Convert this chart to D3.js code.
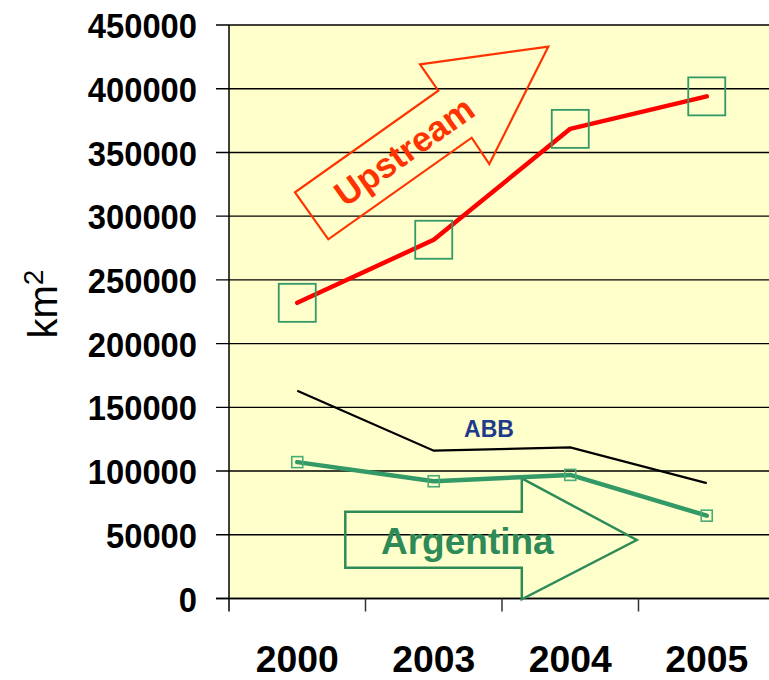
<!DOCTYPE html>
<html>
<head>
<meta charset="utf-8">
<script src="https://cdn.jsdelivr.net/npm/d3@7/dist/d3.min.js"></script>
<style>
  html, body { margin: 0; padding: 0; background: #ffffff; }
  svg { display: block; }
  text { font-family: Arial, "Liberation Sans", Helvetica, sans-serif; }
</style>
</head>
<body>
<svg id="chart" width="769" height="680"></svg>
<script>
// Surface area per year (km²)
const years = ["2000", "2003", "2004", "2005"];
const upstream = [232000, 281500, 368500, 394000];
const abb = [163000, 116000, 118500, 90500];
const argentina = [107000, 92000, 97000, 65000];
const yTickValues = [0, 50000, 100000, 150000, 200000, 250000, 300000, 350000, 400000, 450000];

const svg = d3.select("#chart");
const W = 769;
const plot = { left: 229, right: 775, top: 25, bottom: 598.5 };

const x = d3.scaleBand().domain(years).range([plot.left, plot.right]);
const y = d3.scaleLinear().domain([0, 450000]).range([plot.bottom, plot.top]);
const cx = d => x(d) + x.bandwidth() / 2;

// plot background
svg.append("rect")
  .attr("x", plot.left).attr("y", plot.top)
  .attr("width", W - plot.left).attr("height", plot.bottom - plot.top)
  .attr("fill", "#FFFFCC");

// horizontal gridlines, extending left as tick marks
svg.append("g").selectAll("line").data(yTickValues).join("line")
  .attr("x1", plot.left - 13).attr("x2", W)
  .attr("y1", d => y(d)).attr("y2", d => y(d))
  .attr("stroke", "#000").attr("stroke-width", 1.4);

// y axis labels
const yAxis = d3.axisLeft(y).tickValues(yTickValues).tickSize(0).tickPadding(32)
  .tickFormat(d3.format("d"));
const yg = svg.append("g").attr("transform", `translate(${plot.left},0)`).call(yAxis);
yg.select(".domain").remove();
yg.selectAll("text")
  .attr("font-size", 35).attr("font-weight", "bold").attr("fill", "#000")
  .attr("dy", "0.36em")
  .attr("textLength", d => String(d).length * 18.2)
  .attr("lengthAdjust", "spacingAndGlyphs");

// axis lines
svg.append("line")
  .attr("x1", plot.left).attr("x2", plot.left)
  .attr("y1", plot.top).attr("y2", plot.bottom + 13)
  .attr("stroke", "#000").attr("stroke-width", 1.5);
svg.append("line")
  .attr("x1", plot.left - 13).attr("x2", W)
  .attr("y1", plot.bottom).attr("y2", plot.bottom)
  .attr("stroke", "#000").attr("stroke-width", 1.5);

// x axis: ticks at category boundaries, labels at category centres
svg.append("g").selectAll("line").data(years.slice(1)).join("line")
  .attr("x1", d => x(d)).attr("x2", d => x(d))
  .attr("y1", plot.bottom).attr("y2", plot.bottom + 13)
  .attr("stroke", "#333").attr("stroke-width", 1.5);

const xAxis = d3.axisBottom(x).tickSize(0).tickPadding(0);
const xg = svg.append("g").attr("transform", `translate(0,${plot.bottom})`).call(xAxis);
xg.select(".domain").remove();
xg.selectAll("text")
  .attr("y", 73.5).attr("dy", 0)
  .attr("font-size", 37).attr("font-weight", "bold").attr("fill", "#000")
  .attr("textLength", 83)
  .attr("lengthAdjust", "spacingAndGlyphs");

// y axis title km²
const yt = svg.append("text")
  .attr("transform", "translate(57,304) rotate(-90)")
  .attr("text-anchor", "middle")
  .attr("font-size", 40).attr("fill", "#000");
yt.append("tspan").text("km");
yt.append("tspan").attr("font-size", 28).attr("dy", -14).text("2");

// Upstream arrow annotation
const upArrow = [[295, 192.3], [328.3, 239.3], [471.7, 137.7], [489.3, 164],
                 [548.3, 46.7], [420, 64.3], [438.3, 90.7]];
svg.append("polygon")
  .attr("points", upArrow.map(p => p.join(",")).join(" "))
  .attr("fill", "none").attr("stroke", "#FF3300").attr("stroke-width", 2.2)
  .attr("stroke-linejoin", "miter");
svg.append("text")
  .attr("transform", "translate(404,151) rotate(-35.3)")
  .attr("text-anchor", "middle").attr("dominant-baseline", "central")
  .attr("font-size", 35).attr("font-weight", "bold").attr("fill", "#FF3300")
  .text("Upstream");

// Argentina arrow annotation
const argArrow = [[345.3, 511.7], [521.8, 511.7], [521.8, 478.3], [636.7, 540],
                  [521.8, 599.3], [521.8, 567.7], [345.3, 567.7]];
svg.append("polygon")
  .attr("points", argArrow.map(p => p.join(",")).join(" "))
  .attr("fill", "none").attr("stroke", "#2E8B57").attr("stroke-width", 2.5);
svg.append("text")
  .attr("x", 381).attr("y", 554)
  .attr("font-size", 37).attr("font-weight", "bold").attr("fill", "#2E8B57")
  .text("Argentina");

// ABB label
svg.append("text")
  .attr("x", 489).attr("y", 437).attr("text-anchor", "middle")
  .attr("font-size", 23).attr("font-weight", "bold").attr("fill", "#203A8C")
  .text("ABB");

const line = d3.line().x((d, i) => cx(years[i])).y(d => y(d));

// ABB series
svg.append("path").datum(abb).attr("d", line)
  .attr("fill", "none").attr("stroke", "#000").attr("stroke-width", 2.2);

// Argentina series
svg.append("path").datum(argentina).attr("d", line)
  .attr("fill", "none").attr("stroke", "#339966").attr("stroke-width", 4.5)
  .attr("stroke-linecap", "round").attr("stroke-linejoin", "round");
svg.append("g").selectAll("rect").data(argentina).join("rect")
  .attr("x", (d, i) => cx(years[i]) - 5.5).attr("y", d => y(d) - 5.5)
  .attr("width", 11).attr("height", 11)
  .attr("fill", "none").attr("stroke", "#4AAA78").attr("stroke-width", 1.6);

// Upstream series
svg.append("path").datum(upstream).attr("d", line)
  .attr("fill", "none").attr("stroke", "#FF0000").attr("stroke-width", 4.5)
  .attr("stroke-linecap", "round").attr("stroke-linejoin", "round");
svg.append("g").selectAll("rect").data(upstream).join("rect")
  .attr("x", (d, i) => cx(years[i]) - 18.5).attr("y", d => y(d) - 19)
  .attr("width", 37).attr("height", 38)
  .attr("fill", "none").attr("stroke", "#339966").attr("stroke-width", 1.8);
</script>
</body>
</html>
